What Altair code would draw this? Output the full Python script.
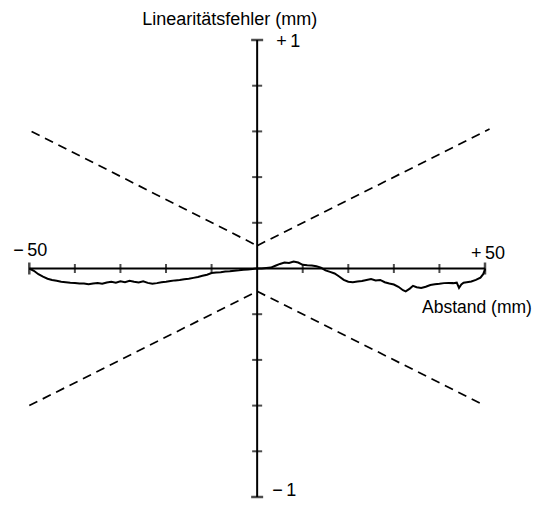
import altair as alt
import pandas as pd

# Error curve (Abstand in mm, Linearitätsfehler in mm)
curve_x = [-50, -49, -48, -47, -46, -45, -44, -43, -42, -41, -40, -39, -38, -37, -36, -35,
           -34, -33, -32, -31, -30, -29, -28, -27, -26, -25, -24, -23, -22, -21, -20, -19,
           -18, -17, -16, -15, -14, -13, -12, -11, -10, -9, -8, -7, -6, -5, -4, -3, -2, -1,
           0, 1, 2, 3, 4, 5, 6, 7, 8, 9, 10, 11, 12, 13, 14, 15, 16, 17, 18, 19, 20, 21, 22,
           23, 24, 25, 26, 27, 28, 29, 30, 31, 32, 32.6, 33.5, 34.2, 35, 36, 37, 38, 39, 40,
           41, 42, 43, 43.8, 44.3, 44.8, 45.3, 46, 47, 48, 49, 49.6, 50, 50]
curve_y = [0.0, -0.01, -0.025, -0.036, -0.045, -0.05, -0.054, -0.058, -0.06, -0.062, -0.063,
           -0.066, -0.066, -0.069, -0.066, -0.064, -0.067, -0.061, -0.058, -0.062, -0.056,
           -0.06, -0.054, -0.058, -0.061, -0.056, -0.063, -0.067, -0.064, -0.06, -0.058,
           -0.055, -0.052, -0.05, -0.047, -0.045, -0.041, -0.037, -0.032, -0.027, -0.02,
           -0.018, -0.016, -0.013, -0.012, -0.01, -0.008, -0.005, -0.004, -0.002,
           0.0, 0.0, 0.002, 0.004, 0.012, 0.02, 0.026, 0.024, 0.03, 0.026, 0.016, 0.014,
           0.013, 0.01, 0.004, -0.008, -0.015, -0.022, -0.035, -0.05, -0.058, -0.06, -0.057,
           -0.055, -0.05, -0.046, -0.052, -0.05, -0.06, -0.066, -0.07, -0.08, -0.095, -0.1,
           -0.088, -0.076, -0.082, -0.085, -0.08, -0.072, -0.069, -0.067, -0.064, -0.063,
           -0.064, -0.062, -0.085, -0.07, -0.062, -0.06, -0.057, -0.05, -0.04, -0.025,
           -0.005, 0.0]

# Tolerance limits (dashed): +/-(0.1 + 0.01*|x|)
tol_x1 = [-49.5, 0, -50, 0]
tol_y1 = [0.6, 0.1, -0.6, -0.1]
tol_x2 = [0, 51, 0, 50]
tol_y2 = [0.1, 0.61, -0.1, -0.6]

x_ticks = [-40, -30, -20, -10, 10, 20, 30, 40]
x_end_ticks = [-50, 50]
y_ticks = [-0.8, -0.6, -0.4, -0.2, 0.2, 0.4, 0.6, 0.8]
y_end_ticks = [-1, 1]

FONT = "Liberation Sans"
FS = 18

xs = alt.Scale(domain=[-54.674, 60.533], nice=False, zero=False)
ys = alt.Scale(domain=[-1.01751, 1.14004], nice=False, zero=False)

curve_df = pd.DataFrame({"x": curve_x, "y": curve_y, "i": range(len(curve_x))})
tol_df = pd.DataFrame({"x": tol_x1, "y": tol_y1, "x2": tol_x2, "y2": tol_y2})
axes_df = pd.DataFrame({"x": [-50, 0], "x2": [50, 0], "y": [0, -1], "y2": [0, 1]})

X = alt.X("x:Q", scale=xs, axis=None)
Y = alt.Y("y:Q", scale=ys, axis=None)

axes = alt.Chart(axes_df).mark_rule(color="black", strokeWidth=2).encode(
    x=X, x2="x2:Q", y=Y, y2="y2:Q")

xt = alt.Chart(pd.DataFrame({"x": x_ticks, "y": [0] * len(x_ticks)})).mark_tick(
    orient="vertical", color="black", size=9, thickness=2).encode(x=X, y=Y)
xte = alt.Chart(pd.DataFrame({"x": x_end_ticks, "y": [0, 0]})).mark_tick(
    orient="vertical", color="black", size=12, thickness=2.5).encode(x=X, y=Y)
yt = alt.Chart(pd.DataFrame({"x": [0] * len(y_ticks), "y": y_ticks})).mark_tick(
    orient="horizontal", color="black", size=10, thickness=2).encode(x=X, y=Y)
yte = alt.Chart(pd.DataFrame({"x": [0, 0], "y": y_end_ticks})).mark_tick(
    orient="horizontal", color="black", size=12, thickness=2.5).encode(x=X, y=Y)

tol = alt.Chart(tol_df).mark_rule(color="black", strokeWidth=1.7, strokeDash=[9, 6]).encode(
    x=X, y=Y, x2="x2:Q", y2="y2:Q")

line = alt.Chart(curve_df).mark_line(color="black", strokeWidth=2).encode(
    x=X, y=Y, order="i:Q")


def label(txt, x, y, align, dx, dy, fs=FS, baseline="alphabetic"):
    return alt.Chart(pd.DataFrame({"x": [x], "y": [y], "t": [txt]})).mark_text(
        font=FONT, fontSize=fs, color="black", align=align, baseline=baseline,
        dx=dx, dy=dy).encode(x=X, y=Y, text="t:N")


texts = [
    label("Linearitätsfehler (mm)", 0, 1, "left", -115, -15),
    label("+\u20091", 0, 1, "left", 19, 7),
    label("\u2212\u20091", 0, -1, "left", 15, 3, baseline="bottom"),
    label("\u2212\u200950", -50, 0, "center", 1, -12),
    label("+\u200950", 50, 0, "center", 3, -9),
    label("Abstand (mm)", 50, 0, "left", -63, 45, 17.5),
]

chart = alt.layer(tol, axes, xt, xte, yt, yte, line, *texts).properties(
    width=525, height=493, padding=0, background="white",
    autosize=alt.AutoSizeParams(type="none")
).configure_view(stroke=None)

chart.save("out.html", embed_options={"renderer": "svg", "actions": False})
